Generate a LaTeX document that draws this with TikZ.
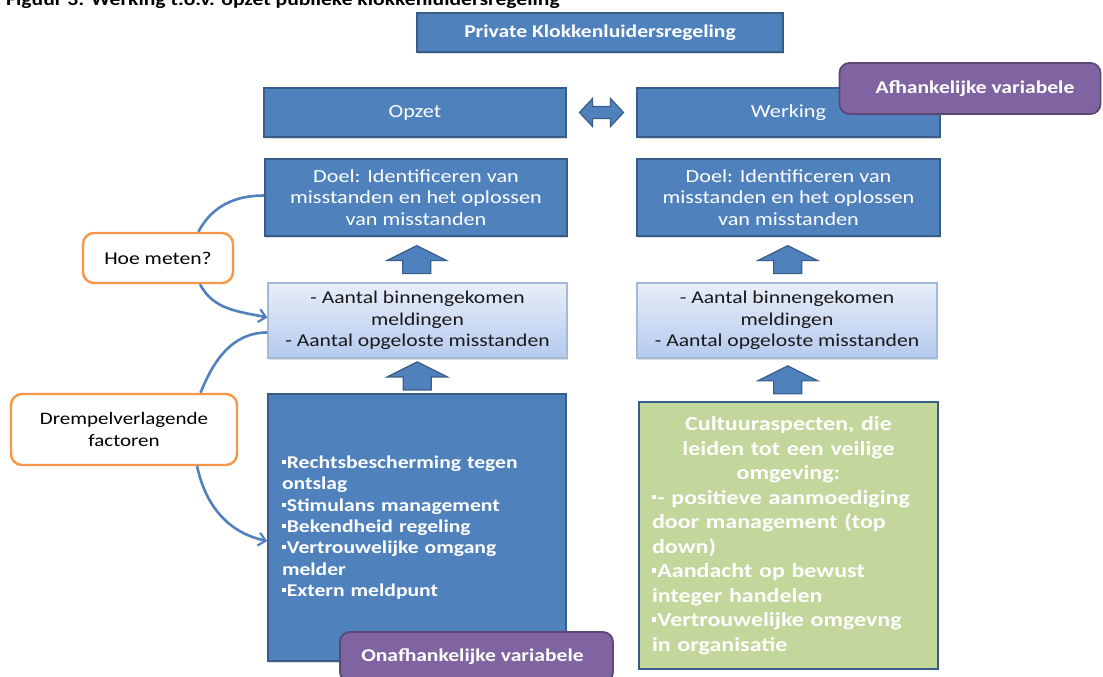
\documentclass[tikz,border=0pt]{standalone}
\usepackage{fontspec}
\setmainfont{Carlito}[FakeStretch=1.2]
\usetikzlibrary{arrows.meta,shadows,calc}

\definecolor{boxblue}{HTML}{4F81BD}
\definecolor{boxedge}{HTML}{385D8A}
\definecolor{paleTop}{HTML}{E8EEF9}
\definecolor{paleBot}{HTML}{B5CAEE}
\definecolor{paleEdge}{HTML}{A3B9D9}
\definecolor{varpurple}{HTML}{8064A2}
\definecolor{varedge}{HTML}{5C4776}
\definecolor{askorange}{HTML}{F79646}
\definecolor{culturegreen}{HTML}{C3D69B}
\definecolor{linkblue}{HTML}{4F81BD}

% small square list bullet
\newcommand\sqbul{\raisebox{0.24em}{\rule{0.2em}{0.22em}}\hspace{0.07em}}

\tikzset{
  softshadow/.style={drop shadow={shadow xshift=1pt, shadow yshift=-1.8pt, opacity=0.28}},
  bluebox/.style={draw=boxedge, line width=1.6pt, fill=boxblue, text=white,
    inner sep=0pt, align=center, softshadow},
  palebox/.style={draw=paleEdge, line width=1.2pt, top color=paleTop, bottom color=paleBot,
    text=black!90, inner sep=0pt, align=center, softshadow,
    font=\fontsize{18}{21.5}\selectfont},
  varbox/.style={draw=varedge, line width=1.8pt, fill=varpurple, text=white,
    rounded corners=10pt, inner sep=0pt, font=\bfseries\fontsize{18}{21}\selectfont},
  askbox/.style={draw=askorange, line width=2.4pt, fill=white, text=black,
    rounded corners=11pt, inner sep=0pt, align=center,
    font=\fontsize{18}{21.5}\selectfont},
  culturebox/.style={draw=boxedge, line width=1.8pt, fill=culturegreen, text=white,
    inner xsep=13pt, inner ysep=0pt},
  blockarrow/.style={draw=boxedge, line width=1.2pt, fill=boxblue},
  link/.style={draw=linkblue, line width=2.6pt},
  linkarrow/.style={link, -{Straight Barb[length=7pt,width=13pt,line width=2.2pt]}},
  uparrow/.pic={\draw[blockarrow] (-14,-14) -- (-14,-1) -- (-30,-1) -- (0,14)
      -- (30,-1) -- (14,-1) -- (14,-14) -- cycle;},
  twoway/.pic={\draw[blockarrow] (-22,0) -- (-9,14) -- (-9,6) -- (9,6) -- (9,14)
      -- (22,0) -- (9,-14) -- (9,-6) -- (-9,-6) -- (-9,-14) -- cycle;}
}

\begin{document}
\begin{tikzpicture}[x=1pt,y=1pt]
\clip (0,0) rectangle (1103,-677);
\useasboundingbox (0,0) rectangle (1103,-677);

% caption line, partly outside the page
\node[anchor=base west, inner sep=0pt, font=\bfseries\fontsize{18}{20}\selectfont]
  (caption) at (6,-5.5) {Figuur 3: Werking t.o.v. opzet publieke klokkenluidersregeling};

% title
\node[bluebox, minimum width=366, minimum height=39, font=\bfseries\fontsize{18}{21}\selectfont]
  (title) at (600,-32.5) {Private Klokkenluidersregeling};

% column heads
\node[bluebox, minimum width=302, minimum height=49, font=\fontsize{18.5}{21.5}\selectfont]
  (opzet) at (415,-112.5) {Opzet};
\node[bluebox, minimum width=303, minimum height=49, font=\fontsize{18.5}{21.5}\selectfont]
  (werking) at (788.5,-112.5) {Werking};
\pic at ($(opzet.east)!0.5!(werking.west)$) {twoway};
\node[varbox, minimum width=261, minimum height=51] (afh) at (970,-88.5)
  {\hspace*{10pt}Afhankelijke variabele};

% goals
\node[bluebox, minimum width=302, minimum height=77, font=\fontsize{18.5}{21.5}\selectfont]
  (doelL) at (416,-197.5) {Doel: Identificeren van\\misstanden en het oplossen\\van misstanden};
\node[bluebox, minimum width=303, minimum height=77, font=\fontsize{18.5}{21.5}\selectfont]
  (doelR) at (788.5,-197.5) {Doel: Identificeren van\\misstanden en het oplossen\\van misstanden};

% measures
\node[palebox, minimum width=299, minimum height=75] (measL) at (417.5,-320.5)
  {- Aantal binnengekomen\\meldingen\\- Aantal opgeloste misstanden};
\node[palebox, minimum width=300, minimum height=75] (measR) at (787,-320.5)
  {- Aantal binnengekomen\\meldingen\\- Aantal opgeloste misstanden};

\pic at ($(doelL.south)!0.5!(measL.north)$) {uparrow};
\pic at ($(doelR.south)!0.5!(measR.north)$) {uparrow};

% factors
\node[bluebox, minimum width=298, minimum height=267, text width=270, inner xsep=14pt,
  align=left, font=\bfseries\fontsize{18}{21.3}\selectfont]
  (factL) at (417,-527.5)
  {\sqbul Rechtsbescherming tegen\\ontslag\\\sqbul Stimulans management\\\sqbul Bekendheid regeling\\%
   \sqbul Vertrouwelijke omgang\\melder\\\sqbul Extern meldpunt};
\node[culturebox, minimum width=299, minimum height=267, text width=273, align=left,
  font=\bfseries\fontsize{20}{24.5}\selectfont]
  (factR) at (788.5,-535.5)
  {\centering Cultuuraspecten, die\\leiden tot een veilige\\omgeving:\par
   \raggedright \sqbul - positieve aanmoediging\\door management (top\\down)\\%
   \sqbul Aandacht op bewust\\integer handelen\\\sqbul Vertrouwelijke omgevng\\in organisatie\par};

\pic at ($(measL.south)!0.5!(factL.north)$) {uparrow};
\pic at ($(measR.south)!0.5!(factR.north)$) {uparrow};

\node[varbox, minimum width=273, minimum height=50] (onafh) at (476.5,-657)
  {Onafhankelijke variabele\hspace*{8pt}};

% questions on the left
\node[askbox, minimum width=150, minimum height=50] (hoe) at (158,-258) {Hoe meten?};
\node[askbox, minimum width=226, minimum height=71, font=\fontsize{17.5}{21.5}\selectfont]
  (drempel) at (124,-429.5) {Drempelverlagende\\factoren};

% curved links
\draw[link] ($(hoe.north)!0.53!(hoe.north east)$) to[out=62, in=180] ($(doelL.west)+(0,2)$);
\draw[linkarrow] ($(hoe.south)!0.55!(hoe.south east)$) to[out=-62, in=168] ($(measL.west)+(0,3)$);
\draw[link] ($(measL.west)+(0,-12)$) to[out=180, in=68] ($(drempel.north)!0.67!(drempel.north east)$);
\draw[linkarrow] ($(drempel.south)!0.64!(drempel.south east)$) to[out=-78, in=168] ($(factL.west)+(0,-13.5)$);
\end{tikzpicture}
\end{document}
